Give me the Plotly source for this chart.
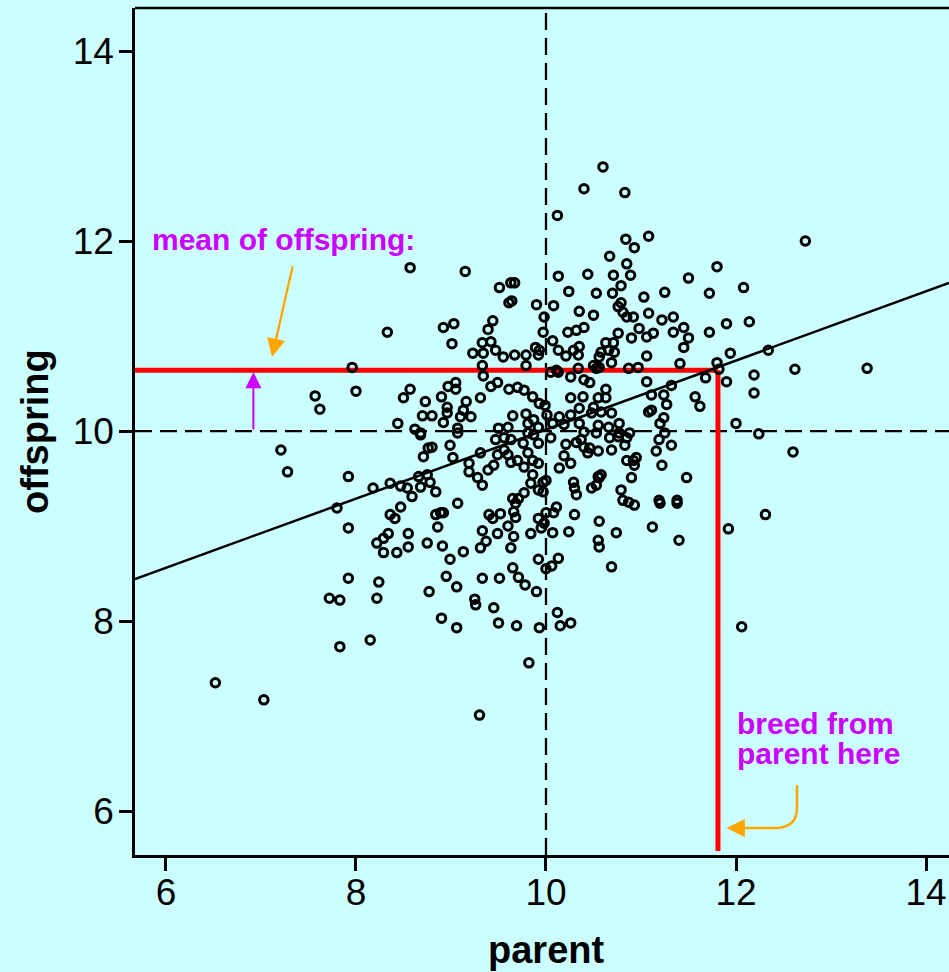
import plotly.graph_objects as go

# ---- data ----
parent = [
    10.60, 10.40, 10.83, 10.12, 10.84, 11.08, 10.93, 10.67, 10.85, 12.73, 11.80, 8.57,
    9.15, 9.51, 9.63, 9.67, 9.61, 9.64, 9.90, 9.98, 8.33, 8.92, 9.03, 9.44, 9.39, 9.97,
    9.01, 9.33, 9.42, 9.23, 9.34, 9.47, 9.55, 9.67, 9.79, 9.89, 9.93, 9.92, 9.33, 9.79,
    9.34, 10.05, 8.97, 9.05, 9.05, 9.42, 9.49, 9.61, 9.70, 9.77, 8.57, 8.50, 8.90, 9.31,
    8.73, 9.16, 9.86, 9.93, 8.96, 8.96, 9.13, 9.10, 9.21, 8.70, 8.80, 8.92, 9.65, 9.79,
    9.99, 10.01, 8.44, 8.62, 8.68, 9.07, 9.07, 9.50, 9.60, 9.81, 9.87, 9.92, 9.81, 9.87,
    10.13, 10.44, 10.71, 10.89, 11.50, 10.24, 10.53, 10.70, 10.79, 11.03, 11.25, 11.72,
    10.08, 10.35, 10.50, 10.76, 10.79, 10.81, 10.85, 10.92, 11.08, 11.22, 11.34, 11.90,
    10.23, 10.32, 10.40, 10.98, 10.76, 10.90, 11.06, 11.13, 11.34, 11.45, 11.50, 11.45,
    11.72, 10.07, 10.13, 10.21, 10.29, 10.35, 10.34, 10.63, 10.71, 10.58, 10.66, 10.72,
    10.56, 10.69, 11.06, 11.94, 10.11, 10.13, 10.34, 10.50, 10.53, 10.56, 10.87, 10.97,
    11.41, 11.80, 11.82, 10.26, 10.40, 10.46, 11.06, 11.32, 11.68, 11.90, 10.63, 10.26,
    10.39, 10.55, 10.63, 11.11, 11.24, 11.57, 11.62, 10.35, 10.50, 11.27, 11.08, 11.11,
    10.14, 10.26, 10.48, 10.58, 10.69, 11.24, 11.20, 10.07, 10.19, 10.35, 10.55, 10.66,
    10.77, 10.40, 10.53, 10.88, 10.77, 11.25, 12.08, 12.14, 12.34, 12.19, 12.62, 13.38,
    12.19, 12.00, 12.24, 12.60, 12.31, 11.92, 8.68, 8.80, 8.76, 8.99, 9.02, 8.71, 9.31,
    9.47, 9.56, 9.63, 9.56, 9.60, 9.63, 9.70, 9.49, 9.81, 9.86, 9.77, 9.92, 9.76, 9.92,
    9.19, 9.19, 9.39, 9.45, 9.28, 9.33, 8.18, 8.36, 8.47, 8.54, 8.66, 8.75, 8.68, 8.78,
    8.59, 8.84, 9.86, 9.84, 9.97, 9.92, 9.97, 9.77, 9.71, 9.65, 9.68, 9.07, 8.47, 8.36,
    8.41, 8.84, 8.89, 8.92, 8.86, 9.40, 9.44, 9.52, 9.66, 9.68, 9.92, 10.00, 9.98, 9.60,
    9.33, 9.49, 9.66, 9.84, 9.95, 8.34, 8.29, 8.22, 8.55, 8.55, 8.75, 8.91, 9.37, 9.31,
    9.63, 8.29, 8.43, 9.13, 8.99, 9.92, 10.00, 10.06, 9.65, 9.71, 8.95, 9.33, 9.51, 8.24,
    9.06, 8.77, 9.25, 9.26, 9.45, 9.78, 9.90, 8.22, 7.72, 7.83, 8.90, 9.06, 9.50, 9.69,
    9.93, 10.12, 10.15, 10.26, 7.83, 8.15, 9.82, 9.30, 10.05, 10.21, 10.19, 10.26, 10.14,
    10.32, 10.37, 10.40, 10.44, 10.46, 10.55, 10.67, 10.76, 10.85, 10.83, 10.69, 11.19,
    11.32, 11.16, 10.85, 10.92, 10.95, 10.93, 11.22, 10.00, 10.29, 10.30, 10.32, 10.48,
    10.53, 10.55, 10.58, 10.56, 10.90, 11.48, 10.79, 10.81, 10.87, 10.93, 11.19, 11.20,
    11.38, 11.38, 10.11, 10.08, 10.30, 10.56, 10.07, 10.24, 10.74, 11.12, 10.55, 10.56,
    11.40, 10.13, 10.69, 7.96, 7.57, 7.62, 8.00, 7.21, 7.28, 7.92, 7.80, 7.92, 7.92,
    6.52, 7.03, 12.06,
]
offspring = [
    12.78, 12.55, 12.51, 12.27, 12.02, 12.05, 11.93, 11.84, 11.76, 12.00, 11.73, 11.72,
    11.68, 11.51, 11.56, 11.56, 11.35, 11.37, 11.33, 11.20, 11.04, 11.09, 11.13, 11.16, 11.07, 11.04,
    10.92, 10.93, 10.94, 10.82, 10.82, 10.85, 10.78, 10.80, 10.80, 10.88, 10.85, 10.80, 10.69, 10.69,
    10.58, 10.62, 10.47, 10.51, 10.44, 10.47, 10.51, 10.44, 10.46, 10.43, 10.44, 10.35, 10.36, 10.35,
    10.31, 10.31, 10.36, 10.29, 10.25, 10.19, 10.22, 10.15, 10.15, 10.16, 10.16, 10.09, 10.16, 10.18,
    10.27, 10.17, 10.08, 10.02, 9.98, 10.03, 9.98, 10.03, 10.04, 10.08, 10.12, 10.04, 9.98, 9.96,
    11.63, 11.65, 11.64, 11.64, 11.61, 11.47, 11.45, 11.45, 11.53, 11.41, 11.46, 11.45,
    11.32, 11.26, 11.22, 11.31, 11.35, 11.25, 11.20, 11.20, 11.24, 11.17, 11.20, 11.13,
    11.04, 11.06, 11.09, 11.08, 11.03, 10.98, 10.99, 11.03, 11.04, 11.09, 10.98, 10.88,
    11.04, 10.95, 10.85, 10.79, 10.85, 10.89, 10.80, 10.93, 10.93, 10.83, 10.85, 10.83,
    10.78, 10.72, 10.79, 10.82, 10.64, 10.62, 10.66, 10.69, 10.66, 10.67, 10.66, 10.67,
    10.71, 10.72, 10.65, 10.57, 10.54, 10.51, 10.52, 10.48, 10.56, 10.52, 10.44, 10.35,
    10.36, 10.35, 10.35, 10.38, 10.38, 10.36, 10.26, 10.24, 10.25, 10.28, 10.20, 10.22,
    10.15, 10.17, 10.19, 10.20, 10.19, 10.14, 10.08, 10.08, 10.07, 10.08, 10.06, 10.04,
    10.08, 9.99, 9.98, 9.98, 9.98, 9.98, 11.51, 11.15, 10.85, 10.59, 10.65, 10.66,
    10.40, 10.08, 9.97, 9.78, 9.12, 8.97, 9.96, 9.83, 9.82, 9.85, 9.72, 9.73, 9.77,
    9.91, 9.93, 9.91, 9.80, 9.75, 9.67, 9.69, 9.75, 9.77, 9.69, 9.62, 9.66, 9.87, 9.87,
    9.66, 9.57, 9.59, 9.64, 9.51, 9.43, 9.40, 9.45, 9.42, 9.40, 9.52, 9.54, 9.41, 9.46,
    9.31, 9.36, 9.54, 9.45, 9.46, 9.38, 9.36, 9.35, 9.29, 9.29, 9.24, 9.24, 9.20, 9.12,
    9.08, 9.12, 9.14, 9.14, 8.99, 9.12, 9.08, 9.13, 9.15, 9.09, 9.08, 9.14, 9.03, 9.00,
    8.95, 8.92, 8.89, 8.92, 8.98, 8.92, 8.87, 8.82, 8.92, 8.78, 8.82, 8.79, 8.84, 8.77,
    8.77, 8.72, 8.72, 8.73, 8.65, 8.65, 8.55, 8.58, 8.56, 8.46, 8.47, 8.45, 8.45, 8.41,
    8.36, 8.31, 8.23, 8.17, 8.14, 8.38, 8.31, 8.24, 8.24, 8.22, 8.03, 7.93, 7.98, 7.95,
    7.93, 8.09, 7.95, 7.98, 7.73, 7.80, 7.56, 7.01, 9.93, 9.86, 9.74, 9.66, 9.61,
    9.88, 9.91, 9.83, 9.77, 9.82, 9.79, 9.93, 9.94, 9.93, 9.85, 9.80, 9.91,
    9.85, 9.79, 9.69, 9.69, 9.72, 9.64, 9.64, 9.48, 9.46, 9.40, 9.33, 9.40,
    9.43, 9.52, 9.54, 9.51, 9.51, 9.51, 9.38, 9.27, 9.25, 9.22, 9.27, 9.24,
    9.27, 9.24, 9.20, 9.14, 9.12, 9.05, 8.93, 8.94, 8.93, 8.99, 8.85, 8.78,
    8.85, 8.66, 8.57, 10.67, 10.37, 10.23, 10.42, 9.80, 9.57, 9.52, 9.19, 8.98, 8.45,
    7.35, 7.17, 7.94,
]

# fitted regression line (end points read at the plot edges)
fit_x = [5.674, 14.242]
fit_y = [8.442, 11.558]

mean_parent = 10.0
mean_offspring = 10.0
selected_parent = 11.81
selected_offspring_mean = 10.64

x_ticks = [6, 8, 10, 12, 14]
y_ticks = [6, 8, 10, 12, 14]

X_RANGE = [5.674, 14.242]
Y_RANGE = [5.537, 14.453]

BG = "#CCFFFF"
MAGENTA = "#CC00FF"
ORANGE = "#FFA500"
FONT = "Liberation Sans, Arial, Helvetica, sans-serif"

fig = go.Figure()

# regression line
fig.add_trace(go.Scatter(
    x=fit_x, y=fit_y, mode="lines",
    line=dict(color="black", width=2.5),
    hoverinfo="skip", showlegend=False,
))

# data points
fig.add_trace(go.Scatter(
    x=parent, y=offspring, mode="markers",
    marker=dict(symbol="circle-open", size=8.5, color="black", line=dict(width=3, color="black")),
    showlegend=False,
))

shapes = []
# dashed mean lines
shapes.append(dict(type="line", xref="x", yref="paper", x0=mean_parent, x1=mean_parent, y0=0, y1=1,
                   line=dict(color="black", width=2.3, dash="17px,8px"), layer="below"))
shapes.append(dict(type="line", xref="paper", yref="y", x0=0, x1=1, y0=mean_offspring, y1=mean_offspring,
                   line=dict(color="black", width=2.3, dash="17px,8px"), layer="below"))
# red selection lines
shapes.append(dict(type="line", xref="x", yref="y", x0=X_RANGE[0], x1=selected_parent,
                   y0=selected_offspring_mean, y1=selected_offspring_mean,
                   line=dict(color="#FF0000", width=5), layer="below"))
shapes.append(dict(type="line", xref="x", yref="y", x0=selected_parent, x1=selected_parent,
                   y0=selected_offspring_mean, y1=5.58,
                   line=dict(color="#FF0000", width=5), layer="below"))
# top frame line
shapes.append(dict(type="line", xref="paper", yref="paper", x0=0, x1=1, y0=1, y1=1,
                   line=dict(color="black", width=2.5)))
# curved orange arrow body
shapes.append(dict(type="path", xref="x", yref="y",
                   path="M 12.642,6.27 L 12.642,6.03 Q 12.642,5.82 12.40,5.82 L 12.02,5.82",
                   line=dict(color=ORANGE, width=2.5)))

annotations = []
# axis titles
annotations.append(dict(text="<b>parent</b>", xref="x", yref="paper", x=10.0, y=-0.112,
                        showarrow=False, font=dict(size=38, color="black", family=FONT),
                        xanchor="center", yanchor="middle"))
annotations.append(dict(text="<b>offspring</b>", xref="paper", yref="y", x=-0.1229, y=10.0,
                        showarrow=False, textangle=-90, font=dict(size=38, color="black", family=FONT),
                        xanchor="center", yanchor="middle"))
# texts
annotations.append(dict(text="<b>mean of offspring:</b>", xref="x", yref="y", x=5.83, y=12.02,
                        showarrow=False, font=dict(size=30, color=MAGENTA, family=FONT),
                        xanchor="left", yanchor="middle"))
annotations.append(dict(text="<b>breed from</b>", xref="x", yref="y", x=11.99, y=6.92,
                        showarrow=False, font=dict(size=30, color=MAGENTA, family=FONT),
                        xanchor="left", yanchor="middle"))
annotations.append(dict(text="<b>parent here</b>", xref="x", yref="y", x=11.99, y=6.61,
                        showarrow=False, font=dict(size=30, color=MAGENTA, family=FONT),
                        xanchor="left", yanchor="middle"))
# arrows
annotations.append(dict(text="", xref="x", yref="y", axref="x", ayref="y",
                        x=7.116, y=10.78, ax=7.337, ay=11.75, showarrow=True,
                        arrowhead=2, arrowsize=1.6, arrowwidth=2.3, arrowcolor=ORANGE, standoff=0))
annotations.append(dict(text="", xref="x", yref="y", axref="x", ayref="y",
                        x=6.92, y=10.62, ax=6.92, ay=10.0, showarrow=True,
                        arrowhead=2, arrowsize=1.6, arrowwidth=2.0, arrowcolor=MAGENTA, standoff=0))
annotations.append(dict(text="", xref="x", yref="y", axref="x", ayref="y",
                        x=11.90, y=5.82, ax=12.05, ay=5.82, showarrow=True,
                        arrowhead=2, arrowsize=1.6, arrowwidth=2.3, arrowcolor=ORANGE, standoff=0))

fig.update_layout(
    width=949, height=972,
    margin=dict(l=135, r=0, t=8, b=117, pad=0),
    paper_bgcolor=BG, plot_bgcolor=BG,
    font=dict(family=FONT, color="black"),
    shapes=shapes, annotations=annotations,
    showlegend=False,
)
fig.update_xaxes(
    range=X_RANGE, tickvals=x_ticks, ticktext=[str(v) for v in x_ticks],
    showgrid=False, zeroline=False, showline=True, linecolor="black", linewidth=2.5,
    ticks="outside", ticklen=13, tickwidth=2.5, tickcolor="black", ticklabelstandoff=-10,
    tickfont=dict(size=37, color="black", family=FONT),
)
fig.update_yaxes(
    range=Y_RANGE, tickvals=y_ticks, ticktext=[str(v) for v in y_ticks],
    showgrid=False, zeroline=False, showline=True, linecolor="black", linewidth=2.5,
    ticks="outside", ticklen=13, tickwidth=2.5, tickcolor="black", ticklabelstandoff=-2,
    tickfont=dict(size=37, color="black", family=FONT),
)

fig.write_html(
    "out.html",
    config={"displayModeBar": False},
    post_script="document.body.style.margin='0';document.body.style.overflow='hidden';",
)
